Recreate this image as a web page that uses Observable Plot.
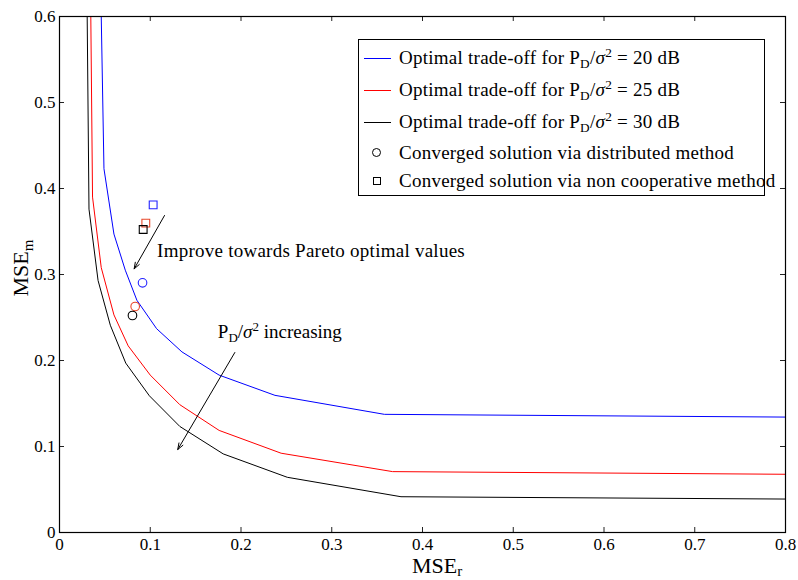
<!DOCTYPE html>
<html><head><meta charset="utf-8">
<script src="https://cdn.jsdelivr.net/npm/d3@7"></script>
<script src="https://cdn.jsdelivr.net/npm/@observablehq/plot@0.6"></script>
<style>
body{margin:0;background:#fff;}
#wrap{position:relative;width:798px;height:580px;font-family:"Liberation Serif","Times New Roman",serif;color:#000;}
#legend{position:absolute;left:358px;top:39px;width:407px;height:157px;border:1px solid #000;background:#fff;box-sizing:border-box;}
.row{position:absolute;left:0;height:20px;width:405px;font-size:19px;white-space:nowrap;letter-spacing:0.25px;}
.row .txt{position:absolute;left:40px;top:0;line-height:20px;}
.row .ln{position:absolute;left:5px;width:27px;top:10px;height:0;border-top:1px solid;}
.row .mk{position:absolute;box-sizing:border-box;border:1px solid #000;}
sub,sup{font-size:70%;line-height:0;position:relative;vertical-align:baseline;}
sub{top:0.3em;}
sup{top:-0.55em;}
</style></head>
<body>
<div id="wrap"><div id="chart"></div><div id="legend"></div></div>
<script>
// ---- data ----
const seriesNames = ["20 dB", "25 dB", "30 dB"];
const mseR_20 = [0.046, 0.049, 0.060, 0.0725, 0.0853, 0.107, 0.1349, 0.1759, 0.2374, 0.358, 0.8];
const mseM_20 = [0.600, 0.423, 0.347, 0.305, 0.270, 0.237, 0.210, 0.183, 0.1595, 0.1374, 0.1342];
const mseR_25 = [0.0345, 0.0364, 0.046, 0.060, 0.0757, 0.100, 0.1326, 0.1759, 0.2442, 0.367, 0.8];
const mseM_25 = [0.600, 0.390, 0.308, 0.253, 0.217, 0.183, 0.1486, 0.1187, 0.0922, 0.0708, 0.0677];
const mseR_30 = [0.0305, 0.0325, 0.0425, 0.056, 0.073, 0.099, 0.1326, 0.1804, 0.251, 0.3763, 0.8];
const mseM_30 = [0.600, 0.376, 0.293, 0.241, 0.197, 0.159, 0.1233, 0.0914, 0.0642, 0.0416, 0.0389];
const distR = [0.0915, 0.0834, 0.0804];   // converged, distributed (circles)
const distM = [0.2903, 0.2628, 0.2523];
const ncR = [0.1032, 0.0951, 0.0922];     // converged, non cooperative (squares)
const ncM = [0.381, 0.3597, 0.3523];
const xTicks = [0, 0.1, 0.2, 0.3, 0.4, 0.5, 0.6, 0.7, 0.8];
const yTicks = [0, 0.1, 0.2, 0.3, 0.4, 0.5, 0.6];
const annoText = ["Improve towards Pareto optimal values", "PD/σ2 increasing"];
const annoX = [0.1075, 0.1745];
const annoY = [0.327, 0.2333];
const arrowX1 = [0.1157, 0.1932];
const arrowY1 = [0.3686, 0.2093];
const arrowX2 = [0.0823, 0.1303];
const arrowY2 = [0.3066, 0.0965];

// ---- styles ----
const lineColors = ["#0000ff", "#ff0000", "#000000"];
const markColors = ["#2323ff", "#e8472a", "#000000"];

const curves = [[mseR_20, mseM_20], [mseR_25, mseM_25], [mseR_30, mseM_30]]
  .flatMap(([xs, ys], s) => xs.map((x, i) => ({r: x, m: ys[i], s: seriesNames[s]})));
const circles = distR.map((r, i) => ({r, m: distM[i], s: seriesNames[i]}));
const squares = ncR.map((r, i) => ({r, m: ncM[i], s: seriesNames[i]}));
const annos = annoText.map((t, i) => ({t, x: annoX[i], y: annoY[i]}));
const arrows = arrowX1.map((x1, i) => ({x1, y1: arrowY1[i], x2: arrowX2[i], y2: arrowY2[i]}));

const W = 798, H = 580, mL = 59, mR = 13, mT = 16, mB = 48;
const innerW = W - mL - mR, innerH = H - mT - mB;
const fmt = d => String(+d.toFixed(1));

const plot = Plot.plot({
  width: W, height: H,
  marginLeft: mL, marginRight: mR, marginTop: mT, marginBottom: mB,
  x: {domain: [0, 0.8]},
  y: {domain: [0, 0.6]},
  color: {domain: seriesNames, range: lineColors},
  style: {fontFamily: '"Liberation Serif","Times New Roman",serif', fontSize: "17px", background: "white", color: "black"},
  marks: [
    Plot.line(curves, {x: "r", y: "m", z: "s", stroke: "s", strokeWidth: 1, clip: true}),
    Plot.dot(circles, {x: "r", y: "m", r: 4.3, symbol: "circle", stroke: (d, i) => markColors[i], strokeWidth: 1.1}),
    Plot.dot(squares, {x: "r", y: "m", r: 4.4, symbol: "square", stroke: (d, i) => markColors[i], strokeWidth: 1.1}),
    Plot.arrow(arrows, {x1: "x1", y1: "y1", x2: "x2", y2: "y2", stroke: "black", strokeWidth: 1, headLength: 10, headAngle: 40}),
    Plot.text(annos, {x: "x", y: "y", text: "t", textAnchor: "start", fontSize: 19, fill: "black"}),
    Plot.tickX(xTicks, {x: d => d, insetTop: innerH - 5, stroke: "#222"}),
    Plot.tickX(xTicks, {x: d => d, insetBottom: innerH - 5, stroke: "#222"}),
    Plot.tickY(yTicks, {y: d => d, insetRight: innerW - 5, stroke: "#222"}),
    Plot.tickY(yTicks, {y: d => d, insetLeft: innerW - 5, stroke: "#222"}),
    Plot.axisX(xTicks, {tickSize: 0, tickPadding: 5, tickFormat: fmt, label: null, fontSize: 17}),
    Plot.axisY(yTicks, {tickSize: 0, tickPadding: 4, tickFormat: fmt, label: null, fontSize: 17}),
    Plot.frame({stroke: "black", strokeWidth: 1.2})
  ]
});
document.getElementById("chart").appendChild(plot);

const svg = d3.select(plot);
// subscript/superscript in annotations
svg.selectAll("text").filter(function() { return this.textContent === annoText[1]; })
  .each(function() {
    const t = d3.select(this);
    t.text(null);
    t.append("tspan").text("P");
    t.append("tspan").attr("dy", "4").attr("font-size", "13").text("D");
    t.append("tspan").attr("dy", "-4").text("/");
    t.append("tspan").attr("font-style", "italic").text("σ");
    t.append("tspan").attr("dy", "-7").attr("font-size", "13").text("2");
    t.append("tspan").attr("dy", "7").text(" increasing");
  });
svg.selectAll("text").filter(function() { return this.textContent === annoText[0]; })
  .attr("letter-spacing", "0.25");
// axis titles
const xt = svg.append("text").attr("x", 437).attr("y", 573).attr("text-anchor", "middle")
  .attr("font-size", 22).attr("fill", "black");
xt.append("tspan").text("MSE");
xt.append("tspan").attr("dy", 3).attr("font-size", 15).text("r");
const yt = svg.append("text").attr("transform", "translate(28,268) rotate(-90)").attr("text-anchor", "middle")
  .attr("font-size", 22).attr("fill", "black");
yt.append("tspan").text("MSE");
yt.append("tspan").attr("dy", 5).attr("font-size", 15).text("m");

// ---- legend ----
const legend = document.getElementById("legend");
const rowCenters = [18, 50, 82, 113, 141];
const legendHtml = [
  "Optimal trade-off for P<sub>D</sub>/<i>σ</i><sup>2</sup> = 20 dB",
  "Optimal trade-off for P<sub>D</sub>/<i>σ</i><sup>2</sup> = 25 dB",
  "Optimal trade-off for P<sub>D</sub>/<i>σ</i><sup>2</sup> = 30 dB",
  "Converged solution via distributed method",
  "Converged solution via non cooperative method"
];
legendHtml.forEach((h, i) => {
  const row = document.createElement("div");
  row.className = "row";
  row.style.top = (rowCenters[i] - 10) + "px";
  let sym = "";
  if (i < 3) sym = `<div class="ln" style="border-color:${lineColors[i]}"></div>`;
  else if (i === 3) sym = `<div class="mk" style="left:13px;top:5px;width:9px;height:9px;border-radius:50%"></div>`;
  else sym = `<div class="mk" style="left:14px;top:6px;width:8px;height:8px"></div>`;
  row.innerHTML = sym + `<span class="txt">${h}</span>`;
  legend.appendChild(row);
});
</script>
</body></html>
